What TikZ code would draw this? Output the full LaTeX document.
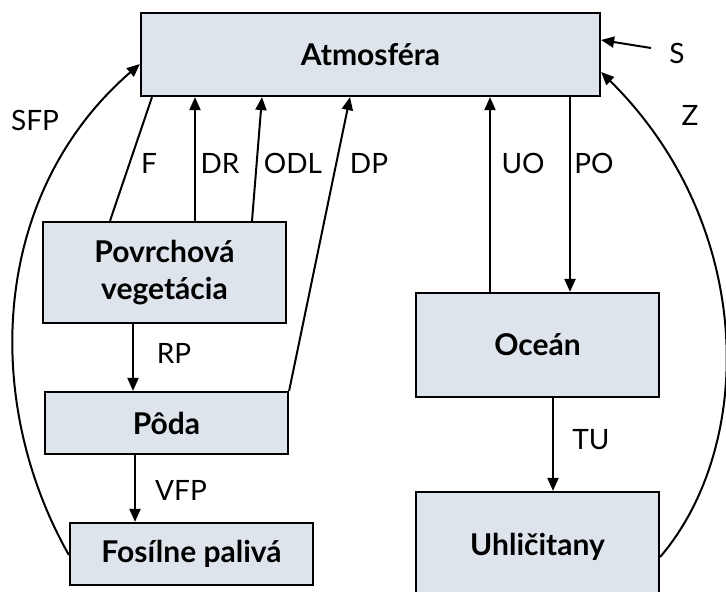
\documentclass[tikz,border=0pt]{standalone}
\usepackage{fontspec}
\setmainfont{Lato}
\usetikzlibrary{arrows.meta}
\definecolor{boxfill}{RGB}{221,228,236}
\tikzset{
  box/.style={draw=black, line width=2.2pt, fill=boxfill, inner sep=0pt, align=center,
    font=\fontsize{30}{37}\selectfont\bfseries},
  conn/.style={line width=2pt},
  arr/.style={line width=2pt, -{Triangle[length=13pt,width=11pt]}},
  lbl/.style={font=\fontsize{28}{32}\selectfont, inner sep=0pt},
}
\begin{document}
\begin{tikzpicture}[x=1pt,y=-1pt]
\useasboundingbox (0,0) rectangle (726,592);
\node[box, minimum width=459pt, minimum height=83pt] (atm) at (370.5,54.5) {Atmosféra};
\node[box, minimum width=243pt, minimum height=101pt] (pov) at (164.5,272.5) {Povrchová\\vegetácia};
\node[box, minimum width=243pt, minimum height=62pt] (poda) at (166.5,423) {Pôda};
\node[box, minimum width=243pt, minimum height=62pt] (fos) at (191.5,554) {Fosílne palivá};
\node[box, minimum width=243pt, minimum height=104pt] (oce) at (537.5,345) {Oceán};
\node[box, minimum width=243pt, minimum height=110pt] (uhl) at (537.5,547) {Uhličitany};

\draw[conn] (pov.north -| 110,0) -- (atm.south -| 152,0);
\draw[arr] (pov.north -| 195,0) -- (atm.south -| 195,0);
\draw[arr] (pov.north -| 252,0) -- (atm.south -| 262,0);
\draw[arr] (poda.north east) -- (atm.south -| 350,0);
\draw[arr] (oce.north -| 490,0) -- (atm.south -| 490,0);
\draw[arr] (atm.south -| 570,0) -- (oce.north -| 570,0);
\draw[arr] (pov.south -| 133,0) -- (poda.north -| 133,0);
\draw[arr] (poda.south -| 135,0) -- (fos.north -| 135,0);
\draw[arr] (oce.south -| 553,0) -- (uhl.north -| 553,0);
\coordinate (sfree) at (651,48);
\draw[arr] (sfree) -- (atm.east |- 0,40);
\draw[arr] (uhl.east |- 0,557) .. controls (756,445) and (756,225) .. (atm.east |- 0,72);
\draw[arr] (fos.west |- 0,555) .. controls (-19,400) and (-9,193) .. (atm.west |- 0,64);

\node[lbl] (lf) at (149,163) {F};
\node[lbl] (ldr) at (220,163) {DR};
\node[lbl] (lodl) at (293,163) {ODL};
\node[lbl] (ldp) at (369,163) {DP};
\node[lbl] (luo) at (523,163) {UO};
\node[lbl] (lpo) at (594,163) {PO};
\node[lbl] (lsfp) at (35,120) {SFP};
\node[lbl] (lz) at (690,115) {Z};
\node[lbl] (ls) at (677,53) {S};
\node[lbl] (lrp) at (174,353) {RP};
\node[lbl] (lvfp) at (181,490) {VFP};
\node[lbl] (ltu) at (591,440) {TU};
\end{tikzpicture}
\end{document}
